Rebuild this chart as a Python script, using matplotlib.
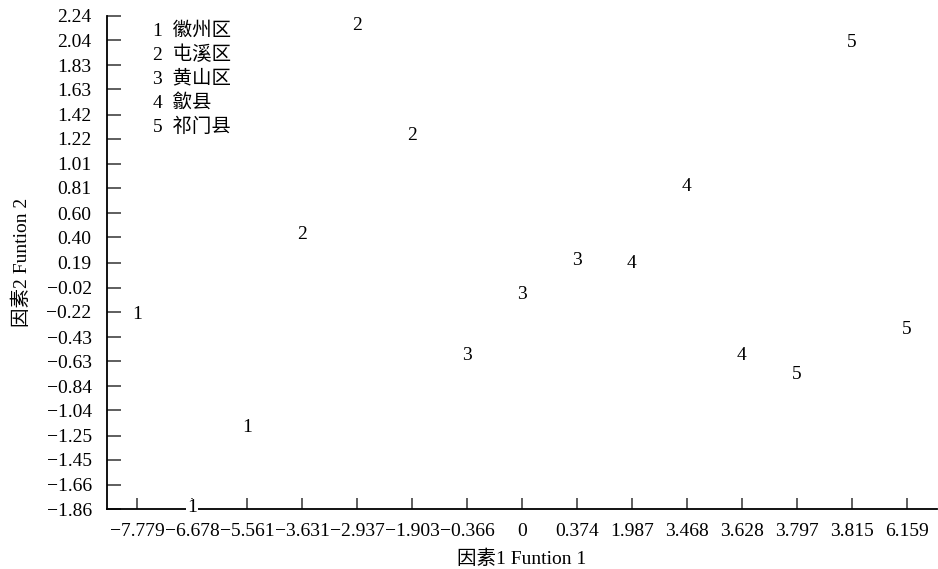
import matplotlib.pyplot as plt

# Dados: eixo x categórico (valores do fator 1), pontos rotulados pelo grupo
fator1 = ['−7.779', '−6.678', '−5.561', '−3.631', '−2.937', '−1.903', '−0.366',
          '0', '0.374', '1.987', '3.468', '3.628', '3.797', '3.815', '6.159']
fator2 = [-0.24, -1.85, -1.18, 0.42, 2.16, 1.25, -0.58, -0.08, 0.21, 0.18,
          0.82, -0.58, -0.74, 2.02, -0.37]
grupos = ['1', '1', '1', '2', '2', '2', '3', '3', '3', '4', '4', '4', '5', '5', '5']

legenda = ['1  徽州区', '2  屯溪区', '3  黄山区', '4  歙县', '5  祁门县']
yticks = [-1.86, -1.66, -1.45, -1.25, -1.04, -0.84, -0.63, -0.43, -0.22, -0.02,
          0.19, 0.40, 0.60, 0.81, 1.01, 1.22, 1.42, 1.63, 1.83, 2.04, 2.24]

plt.rcParams['font.family'] = ['Liberation Serif', 'Noto Sans CJK SC']

fig = plt.figure(figsize=(9.38, 5.69), dpi=100)
ax = fig.add_axes([0.114, 0.1054, 0.885, 0.8665])

for i, (y, g) in enumerate(zip(fator2, grupos)):
    ax.text(i, y, g, ha='center', va='center', fontsize=14,
            bbox=dict(facecolor='white', edgecolor='none', pad=0.5), zorder=5)

ax.set_xlim(-0.55, len(fator1) - 0.45)
ax.set_ylim(-1.86, 2.24)
ax.set_xticks(range(len(fator1)))
ax.set_xticklabels(fator1, fontsize=14)
ax.set_yticks(yticks)
ax.set_yticklabels([('%.2f' % v).replace('-', '−') for v in yticks], fontsize=14)

ax.spines['top'].set_visible(False)
ax.spines['right'].set_visible(False)
ax.spines['left'].set_linewidth(1.3)
ax.spines['bottom'].set_linewidth(1.3)
ax.tick_params(axis='y', direction='in', length=10, width=1.1, color='#333333', pad=11)
ax.tick_params(axis='x', direction='in', length=8, width=1.1, color='#333333', pad=10)

for k, txt in enumerate(legenda):
    ax.text(0.055, 0.970 - k * 0.0487, txt, transform=ax.transAxes,
            fontsize=14, va='center', ha='left')

ax.set_xlabel('因素1 Funtion 1', fontsize=14, labelpad=7)
ax.set_ylabel('因素2 Funtion 2', fontsize=14, labelpad=11)

plt.savefig('out.png', dpi=100)
